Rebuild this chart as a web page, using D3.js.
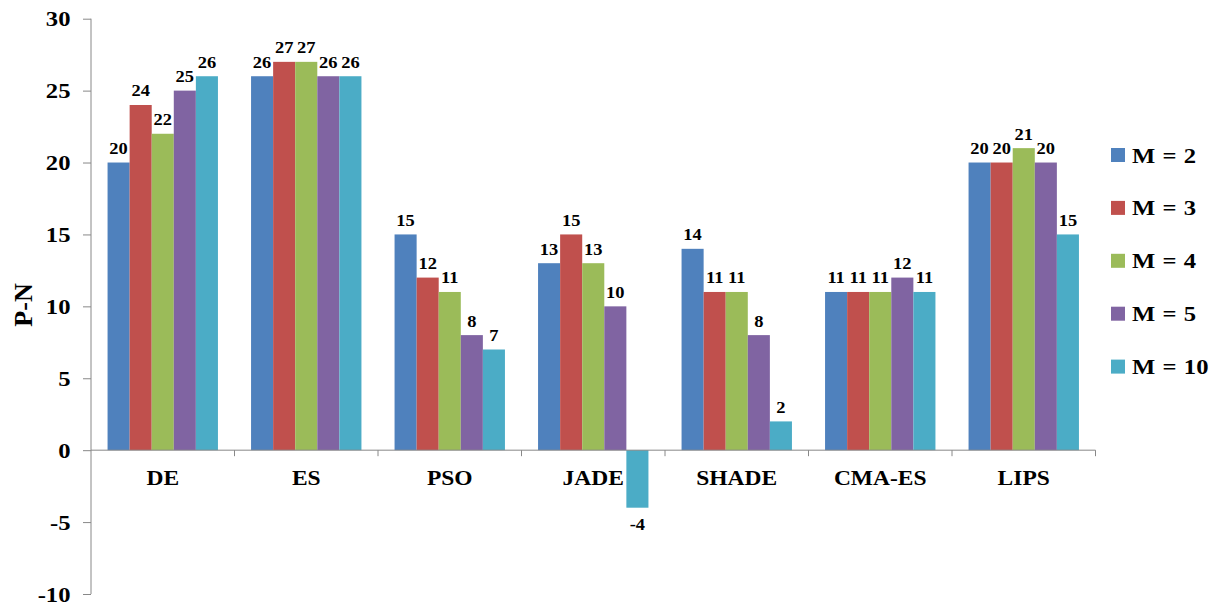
<!DOCTYPE html>
<html><head><meta charset="utf-8">
<script src="https://cdn.jsdelivr.net/npm/d3@7"></script>
<style>
body{margin:0;background:#fff;}
text{font-family:"Liberation Serif","Times New Roman",serif;font-weight:bold;fill:#000;}
</style></head>
<body><svg id="c" width="1214" height="605"></svg>
<script>
const categories = ["DE","ES","PSO","JADE","SHADE","CMA-ES","LIPS"];
const seriesNames = ["M = 2","M = 3","M = 4","M = 5","M = 10"];
const m2  = [20,26,15,13,14,11,20];
const m3  = [24,27,12,15,11,11,20];
const m4  = [22,27,11,13,11,11,21];
const m5  = [25,26,8,10,8,12,20];
const m10 = [26,26,7,-4,2,11,15];
const yTicks = [-10,-5,0,5,10,15,20,25,30];
const colors = ["#4F81BD","#C0504D","#9BBB59","#8064A2","#4BACC6"];
const series = [m2,m3,m4,m5,m10];

const svg = d3.select("#c");
const pLeft = 91, pRight = 1095.5, pTop = 18.7, pBottom = 594;
const y = d3.scaleLinear().domain([-10,30]).range([pBottom, pTop]);
const x0 = d3.scaleBand().domain(categories).range([pLeft, pRight]).padding(0);
const bw = x0.bandwidth();
const x1 = d3.scaleBand().domain(d3.range(5)).range([bw*0.75/6.5, bw*(1-0.75/6.5)]).padding(0);

const sx = 1.12;
function stretched(g, tx, ty, txt, size, anchor){
  return g.append("text").attr("transform",`translate(${tx},${ty}) scale(${sx},1)`)
    .attr("text-anchor",anchor).style("font-size",size+"px").text(txt);
}

// bars
series.forEach((s,si)=>{
  svg.append("g").selectAll("rect").data(categories).join("rect")
    .attr("x",(c)=>x0(c)+x1(si))
    .attr("width",x1.bandwidth())
    .attr("y",(c,i)=>y(Math.max(0,s[i])))
    .attr("height",(c,i)=>Math.abs(y(s[i])-y(0)))
    .attr("fill",colors[si]);
});

// y axis
const yAxis = d3.axisLeft(y).tickValues(yTicks).tickSize(8).tickFormat("");
const ga = svg.append("g").attr("transform",`translate(${pLeft},0)`).call(yAxis);
ga.select(".domain").attr("stroke","#888").attr("d",`M0,${y(30)}V${y(-10)}`);
ga.selectAll(".tick line").attr("stroke","#888");
const gl = svg.append("g");
yTicks.forEach(t=>{ stretched(gl, 70.5, y(t)+7.5, String(t), 22, "end"); });

// x axis at zero
const xAxis = d3.axisBottom(x0).tickSize(0).tickFormat("");
const gx = svg.append("g").attr("transform",`translate(0,${y(0)})`).call(xAxis);
gx.select(".domain").attr("stroke","#888").attr("d",`M${pLeft},0H${pRight}`);
const bounds = categories.map(c=>x0(c)+bw);
svg.append("g").selectAll("line").data(bounds).join("line")
  .attr("x1",d=>d).attr("x2",d=>d).attr("y1",y(0)).attr("y2",y(0)+6).attr("stroke","#888");
categories.forEach(c=>{ stretched(svg, x0(c)+bw/2, y(0)+35, c, 21, "middle"); });

// data labels
series.forEach((s,si)=>{
  categories.forEach((c,i)=>{
    const cx = x0(c)+x1(si)+x1.bandwidth()/2;
    const v = s[i];
    const ty = v>=0 ? y(v)-8.5 : y(v)+22;
    stretched(svg, cx, ty, String(v), 16.5, "middle");
  });
});

// y title
svg.append("text").attr("transform",`translate(32,305) rotate(-90)`).attr("text-anchor","middle")
  .style("font-size","26px").text("P-N");

// legend
const lg = svg.append("g");
seriesNames.forEach((n,i)=>{
  const cy = 155 + i*52.9;
  lg.append("rect").attr("x",1111).attr("y",cy-7).attr("width",14).attr("height",14).attr("fill",colors[i]);
  stretched(lg, 1132, cy+7.5, n, 22, "start").style("word-spacing","1px");
});
</script></body></html>
